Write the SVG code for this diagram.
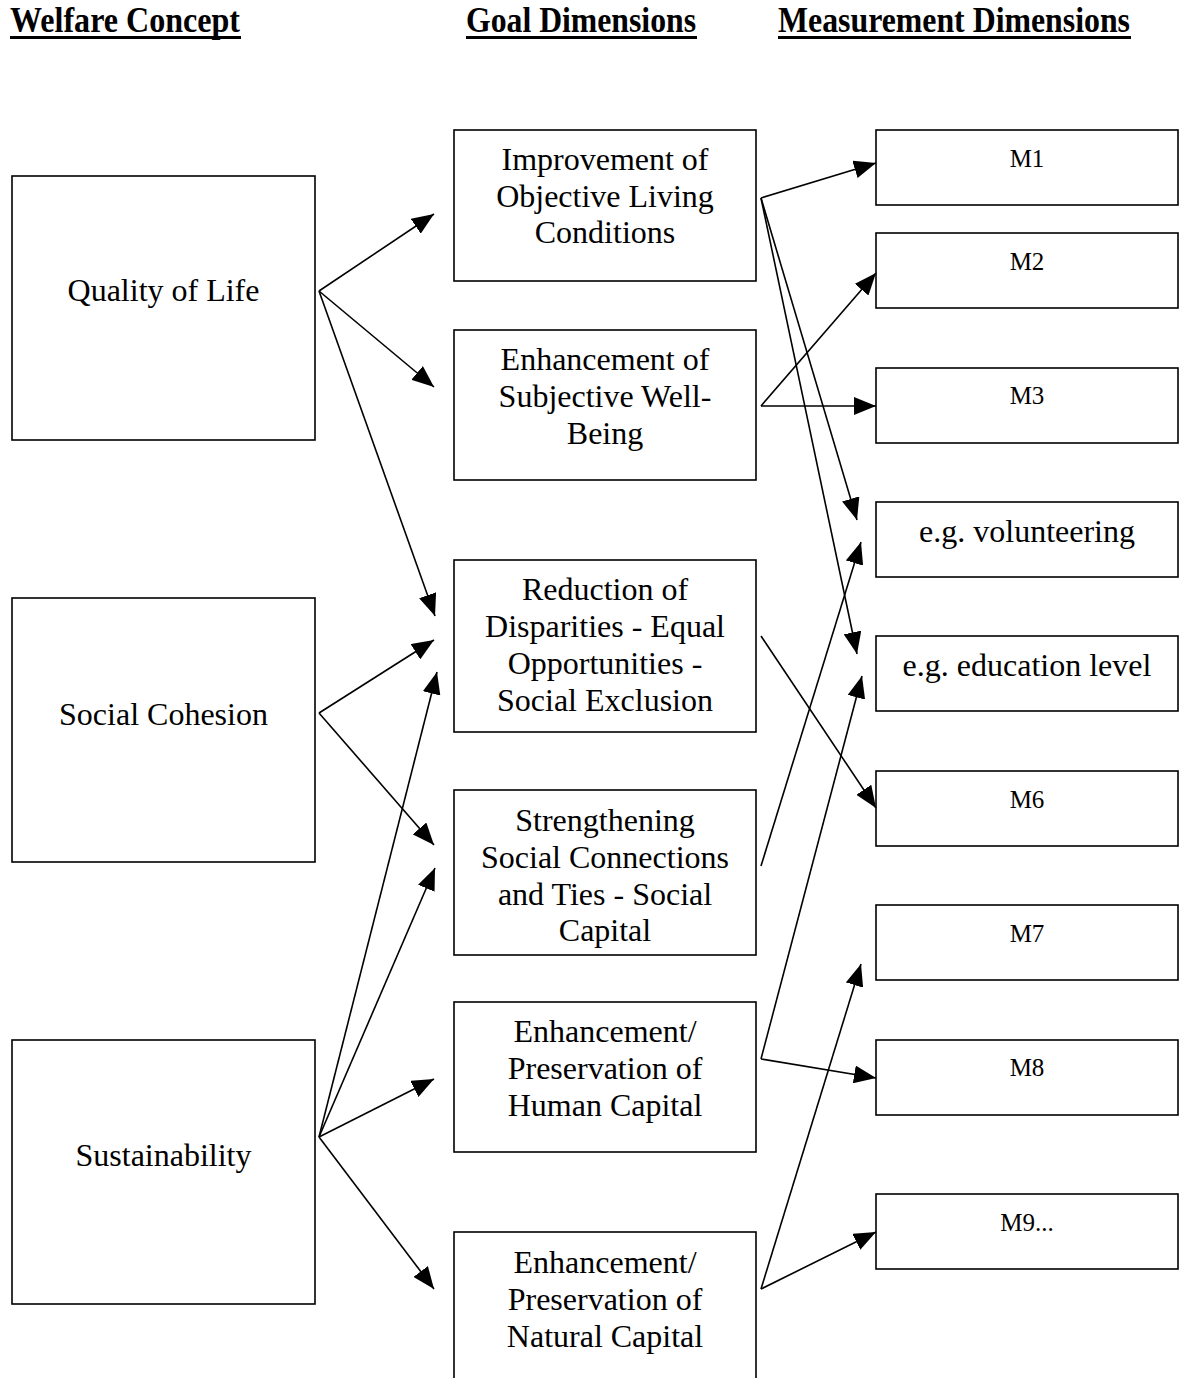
<svg xmlns="http://www.w3.org/2000/svg" width="1182" height="1378" viewBox="0 0 1182 1378">
<style>
.box{fill:#fff;stroke:#000;stroke-width:1.6}
.t{font-family:"Liberation Serif","Times New Roman",serif;font-size:32px;fill:#000;text-anchor:middle}
.m{font-family:"Liberation Serif","Times New Roman",serif;font-size:25px;fill:#000;text-anchor:middle}
.h{font-family:"Liberation Serif","Times New Roman",serif;font-size:35px;font-weight:bold;fill:#000}
.c{stroke:#000;stroke-width:1.6;fill:none;marker-end:url(#ah)}
</style>
<defs>
<marker id="ah" markerUnits="userSpaceOnUse" markerWidth="24" markerHeight="18" refX="22" refY="9" orient="auto">
<path d="M0,0 L22,9 L0,18 z" fill="#000"/>
</marker>
</defs>
<g id="headers">
<text class="h" x="10" y="32" textLength="230" lengthAdjust="spacingAndGlyphs">Welfare Concept</text>
<rect x="10" y="36" width="231" height="3" fill="#000"/>
<text class="h" x="466" y="32" textLength="230" lengthAdjust="spacingAndGlyphs">Goal Dimensions</text>
<rect x="466" y="36" width="231" height="3" fill="#000"/>
<text class="h" x="778" y="32" textLength="352" lengthAdjust="spacingAndGlyphs">Measurement Dimensions</text>
<rect x="778" y="36" width="353" height="3" fill="#000"/>
</g>
<g id="n-quality"><rect class="box" x="12" y="176" width="303" height="264"/><text class="t" x="163.5" y="301">Quality of Life</text></g>
<g id="n-cohesion"><rect class="box" x="12" y="598" width="303" height="264"/><text class="t" x="163.5" y="725">Social Cohesion</text></g>
<g id="n-sustain"><rect class="box" x="12" y="1040" width="303" height="264"/><text class="t" x="163.5" y="1166">Sustainability</text></g>

<g id="n-g1"><rect class="box" x="454" y="130" width="302" height="151"/><text class="t" x="605" y="170">Improvement of</text><text class="t" x="605" y="207">Objective Living</text><text class="t" x="605" y="243">Conditions</text></g>
<g id="n-g2"><rect class="box" x="454" y="330" width="302" height="150"/><text class="t" x="605" y="370">Enhancement of</text><text class="t" x="605" y="407">Subjective Well-</text><text class="t" x="605" y="444">Being</text></g>
<g id="n-g3"><rect class="box" x="454" y="560" width="302" height="172"/><text class="t" x="605" y="600">Reduction of</text><text class="t" x="605" y="637">Disparities - Equal</text><text class="t" x="605" y="674">Opportunities -</text><text class="t" x="605" y="711">Social Exclusion</text></g>
<g id="n-g4"><rect class="box" x="454" y="790" width="302" height="165"/><text class="t" x="605" y="831">Strengthening</text><text class="t" x="605" y="868">Social Connections</text><text class="t" x="605" y="905">and Ties - Social</text><text class="t" x="605" y="941">Capital</text></g>
<g id="n-g5"><rect class="box" x="454" y="1002" width="302" height="150"/><text class="t" x="605" y="1042">Enhancement/</text><text class="t" x="605" y="1079">Preservation of</text><text class="t" x="605" y="1116">Human Capital</text></g>
<g id="n-g6"><rect class="box" x="454" y="1232" width="302" height="160"/><text class="t" x="605" y="1273">Enhancement/</text><text class="t" x="605" y="1310">Preservation of</text><text class="t" x="605" y="1347">Natural Capital</text></g>

<g id="n-m1"><rect class="box" x="876" y="130" width="302" height="75"/><text class="m" x="1027" y="167">M1</text></g>
<g id="n-m2"><rect class="box" x="876" y="233" width="302" height="75"/><text class="m" x="1027" y="270">M2</text></g>
<g id="n-m3"><rect class="box" x="876" y="368" width="302" height="75"/><text class="m" x="1027" y="404">M3</text></g>
<g id="n-m4"><rect class="box" x="876" y="502" width="302" height="75"/><text class="t" x="1027" y="542">e.g. volunteering</text></g>
<g id="n-m5"><rect class="box" x="876" y="636" width="302" height="75"/><text class="t" x="1027" y="676">e.g. education level</text></g>
<g id="n-m6"><rect class="box" x="876" y="771" width="302" height="75"/><text class="m" x="1027" y="808">M6</text></g>
<g id="n-m7"><rect class="box" x="876" y="905" width="302" height="75"/><text class="m" x="1027" y="942">M7</text></g>
<g id="n-m8"><rect class="box" x="876" y="1040" width="302" height="75"/><text class="m" x="1027" y="1076">M8</text></g>
<g id="n-m9"><rect class="box" x="876" y="1194" width="302" height="75"/><text class="m" x="1027" y="1231">M9...</text></g>

<g id="connectors">
<line class="c" x1="319" y1="291" x2="434" y2="214"/>
<line class="c" x1="319" y1="291" x2="434" y2="387"/>
<line class="c" x1="319" y1="291" x2="435" y2="616"/>
<line class="c" x1="319" y1="713" x2="434" y2="640"/>
<line class="c" x1="319" y1="713" x2="434" y2="845"/>
<line class="c" x1="319" y1="1137" x2="437" y2="672"/>
<line class="c" x1="319" y1="1137" x2="435" y2="868"/>
<line class="c" x1="319" y1="1137" x2="434" y2="1079"/>
<line class="c" x1="319" y1="1137" x2="434" y2="1289"/>
<line class="c" x1="761" y1="198" x2="876" y2="163"/>
<line class="c" x1="761" y1="198" x2="857" y2="520"/>
<line class="c" x1="761" y1="198" x2="857" y2="654"/>
<line class="c" x1="761" y1="406" x2="876" y2="273"/>
<line class="c" x1="761" y1="406" x2="876" y2="406"/>
<line class="c" x1="761" y1="636" x2="876" y2="808"/>
<line class="c" x1="761" y1="866" x2="861" y2="542"/>
<line class="c" x1="761" y1="1059" x2="862" y2="676"/>
<line class="c" x1="761" y1="1059" x2="876" y2="1078"/>
<line class="c" x1="761" y1="1289" x2="861" y2="964"/>
<line class="c" x1="761" y1="1289" x2="876" y2="1232"/>
</g>
</svg>
